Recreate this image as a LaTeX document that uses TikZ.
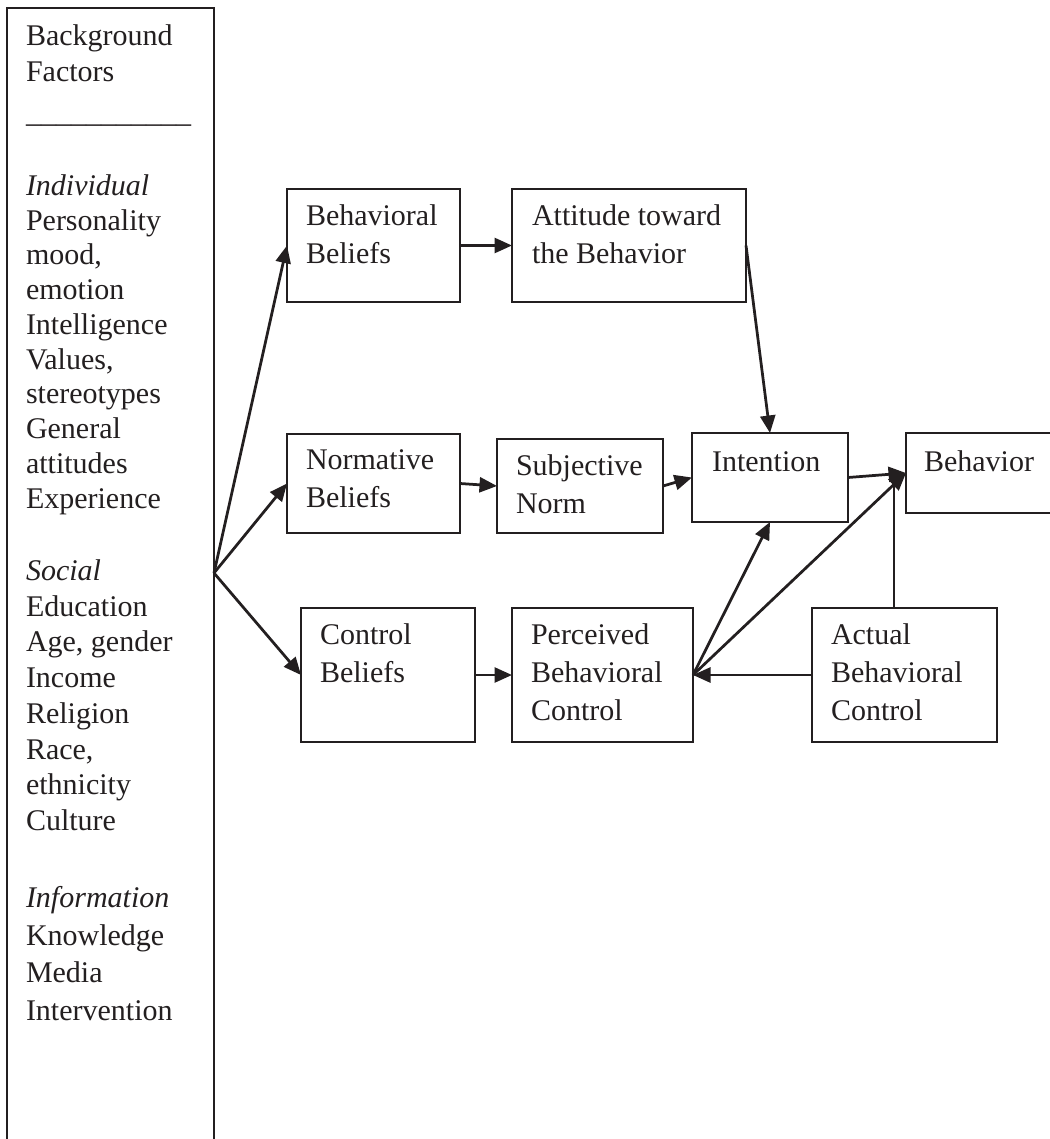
\documentclass[tikz,border=0pt]{standalone}
\usepackage{fontspec}
\setmainfont{Liberation Serif}
\usetikzlibrary{arrows.meta}
\definecolor{ink}{HTML}{231F20}

\begin{document}
\begin{tikzpicture}[x=0.4pt, y=-0.4pt, ink, >={Triangle[length=7pt,width=6pt]}]
\clip (0,0) rectangle (1050,1139);
\tikzstyle{every node} = [inner sep=0pt, outer sep=0pt, font=\fontsize{12}{15.2}\selectfont]
\tikzstyle{frame} = [draw, line width=0.8pt, anchor=north west]
\tikzstyle{txt} = [anchor=north west, align=left]
\tikzstyle{link} = [->, line width=1.1pt]
% background factors column
\node[frame, minimum width=82.8pt, minimum height=480pt] (bg) at (7,8) {};
\node[txt, font=\fontsize{12}{14.4}\selectfont] (bgh) at (26,24.5) {Background\\Factors};
\node[anchor=base west] (bgl) at (26,123) {\_\_\_\_\_\_\_\_\_\_\_};
\node[txt, font=\fontsize{12}{13.9}\selectfont] (indiv) at (26,174.5)
	{\textit{Individual}\\Personality\\mood,\\emotion\\Intelligence\\Values,\\stereotypes\\General\\attitudes\\Experience};
\node[txt, font=\fontsize{12}{14.3}\selectfont] (soc) at (26,559.5)
	{\textit{Social}\\Education\\Age, gender\\Income\\Religion\\Race,\\ethnicity\\Culture};
\node[txt, font=\fontsize{12}{15}\selectfont] (info) at (26,886.5)
	{\textit{Information}\\Knowledge\\Media\\Intervention};
% boxes
\node[frame, minimum width=69.2pt, minimum height=45.2pt] (bb) at (287,189) {};
\node[frame, minimum width=93.6pt, minimum height=45.2pt] (att) at (512,189) {};
\node[frame, minimum width=69.2pt, minimum height=39.6pt] (nb) at (287,434) {};
\node[frame, minimum width=66.4pt, minimum height=37.6pt] (sn) at (497,439) {};
\node[frame, minimum width=62.4pt, minimum height=35.6pt] (int) at (692,433) {};
\node[frame, minimum width=68pt, minimum height=32pt] (beh) at (906,433) {};
\node[frame, minimum width=69.6pt, minimum height=53.6pt] (cb) at (301,608) {};
\node[frame, minimum width=72.4pt, minimum height=53.6pt] (pbc) at (512,608) {};
\node[frame, minimum width=74pt, minimum height=53.6pt] (abc) at (812,608) {};
% box texts
\node[txt] (bbt) at (306,204.5) {Behavioral\\Beliefs};
\node[txt] (attt) at (532,204.5) {Attitude toward\\the Behavior};
\node[txt] (nbt) at (306,449.5) {Normative\\Beliefs};
\node[txt] (snt) at (516,454.5) {Subjective\\Norm};
\node[anchor=base west] (intt) at (712,471) {Intention};
\node[anchor=base west] (beht) at (924,471) {Behavior};
\node[txt] (cbt) at (320,623.5) {Control\\Beliefs};
\node[txt] (pbct) at (531,623.5) {Perceived\\Behavioral\\Control};
\node[txt] (abct) at (831,623.5) {Actual\\Behavioral\\Control};
% connectors
\coordinate (fan) at (214,573);
\coordinate (abcup) at (894,478);
\draw[link] (fan) -- (bb.west);
\draw[link] (fan) -- (nb.west);
\draw[link] (fan) -- (cb.west);
\draw[link] (bb.east) -- (att.west);
\draw[link] (att.east) -- (int.north);
\draw[link] (nb.east) -- (sn.west);
\draw[link] (sn.east) -- (int.west);
\draw[link] (int.east) -- (beh.west);
\draw[link] (cb.east) -- (pbc.west);
\draw[link] (abc.west) -- (pbc.east);
\draw[link] (pbc.east) -- (int.south);
\draw[link] (pbc.east) -- (beh.west);
\draw[line width=1.1pt] (abcup |- abc.north) -- (abcup);
\end{tikzpicture}
\end{document}
